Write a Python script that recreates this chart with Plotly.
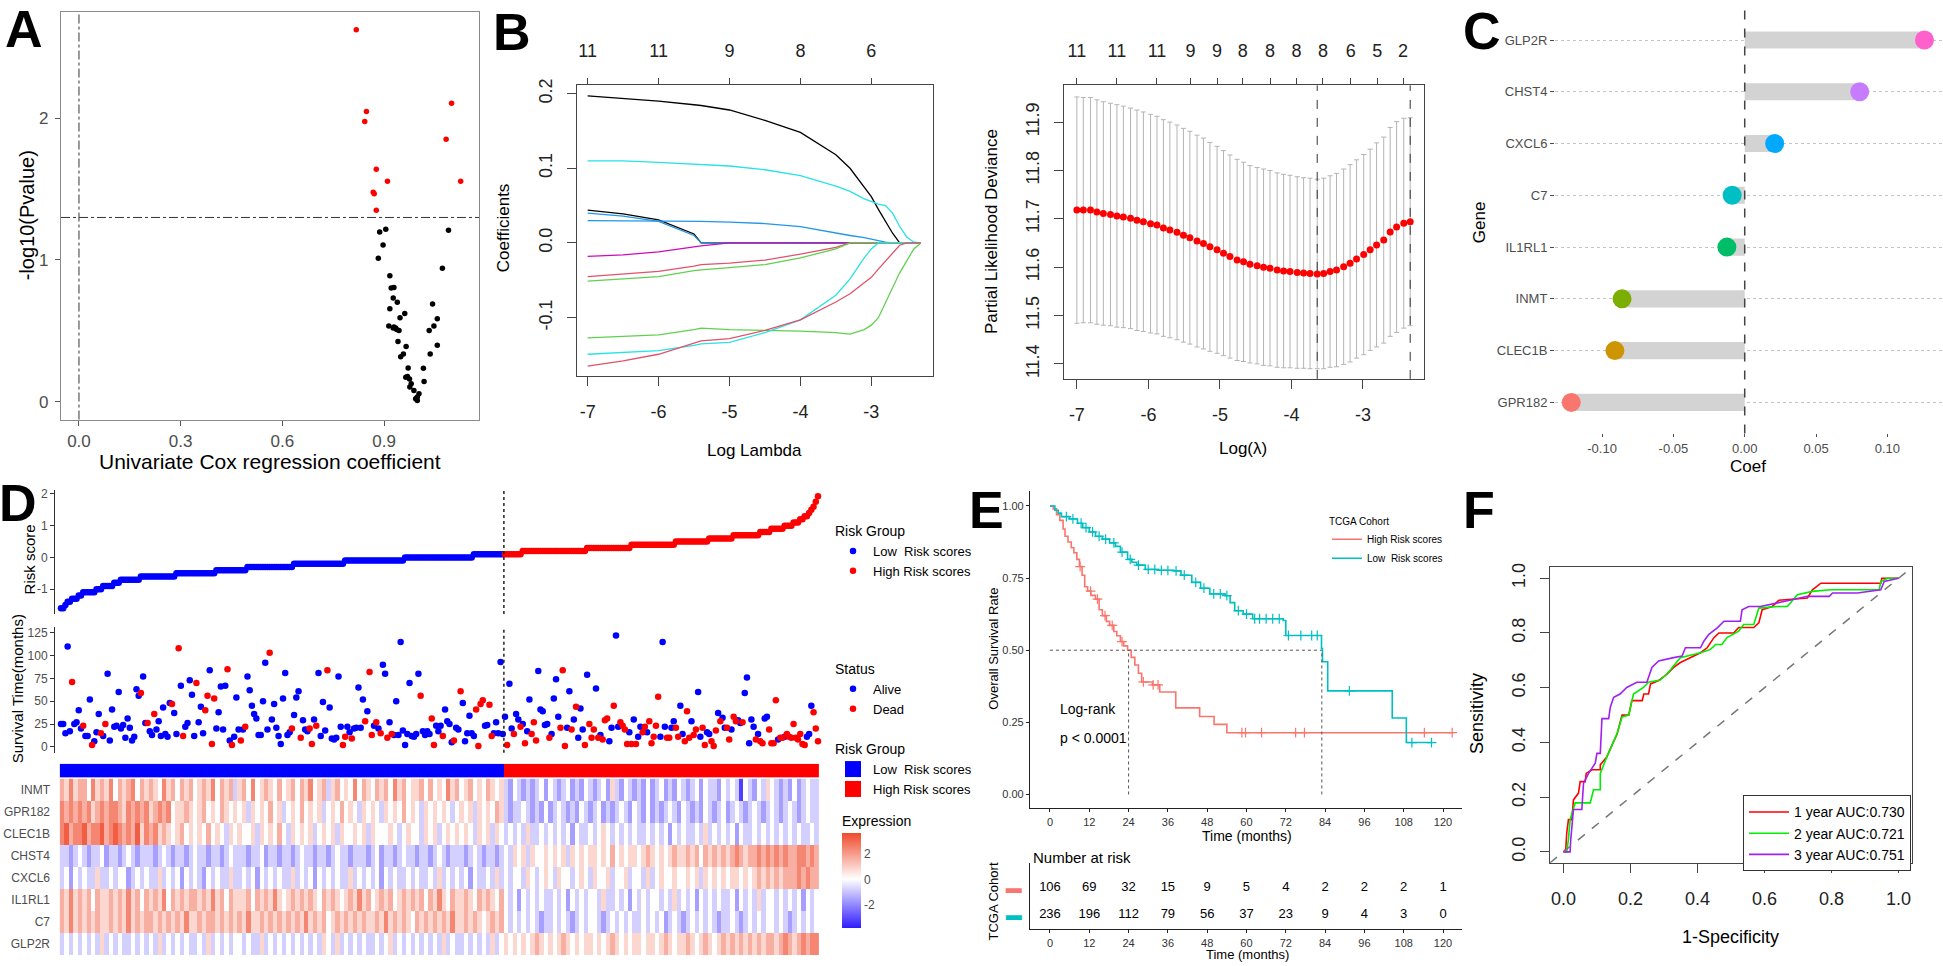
import plotly.graph_objects as go

W, H = 1943, 966

# ======================= DATA =======================
# ---- Panel A: univariate Cox ----
a_sig_x = [0.818, 0.848, 0.843, 0.877, 0.910, 0.868, 0.871, 0.877, 1.099, 1.083, 1.126]
a_sig_y = [2.625, 2.047, 1.977, 1.641, 1.555, 1.478, 1.468, 1.350, 2.105, 1.851, 1.555]
a_ns_x = [0.887, 0.905, 0.897, 0.883, 0.917, 0.921, 0.929, 0.927, 0.939, 0.917,
          0.947, 0.961, 0.914, 0.929, 0.937, 0.944, 0.941, 0.965, 0.957, 0.949,
          0.971, 0.969, 0.975, 0.980, 0.988, 0.993, 0.998, 1.003, 1.016, 1.018,
          1.033, 1.047, 1.057, 1.043, 1.036, 1.057, 1.072, 1.090, 0.964, 0.976,
          0.998, 0.927, 0.934]
a_ns_y = [1.198, 1.217, 1.105, 1.012, 0.888, 0.802, 0.806, 0.732, 0.702, 0.655,
          0.592, 0.622, 0.534, 0.527, 0.510, 0.503, 0.424, 0.389, 0.336, 0.317,
          0.238, 0.177, 0.161, 0.126, 0.079, 0.021, 0.033, 0.056, 0.236, 0.142,
          0.503, 0.534, 0.585, 0.690, 0.336, 0.399, 0.942, 1.210, 0.172, 0.103,
          0.009, 0.520, 0.520]
a_p_cut = 1.3

# ---- Panel B (left): LASSO coefficient paths ----
lasso_loglam = [-7.0, -6.5, -6.0, -5.5, -5.4, -5.0, -4.5, -4.0, -3.5, -3.3, -3.1, -3.0,
                -2.9, -2.8, -2.7, -2.6, -2.5, -2.4, -2.3]
lasso_coefs = [
    [0.197, 0.194, 0.190, 0.185, 0.184, 0.178, 0.164, 0.148, 0.118, 0.100, 0.075, 0.062, 0.045, 0.029, 0.013, 0, 0, 0, 0],
    [0.110, 0.110, 0.108, 0.106, 0.105, 0.103, 0.098, 0.090, 0.076, 0.069, 0.059, 0.055, 0.052, 0.050, 0.040, 0.022, 0.008, 0.001, 0],
    [0.044, 0.039, 0.031, 0.012, 0, 0, 0, 0, 0, 0, 0, 0, 0, 0, 0, 0, 0, 0, 0],
    [0.040, 0.036, 0.029, 0.010, 0, 0, 0, 0, 0, 0, 0, 0, 0, 0, 0, 0, 0, 0, 0],
    [0.030, 0.030, 0.030, 0.029, 0.029, 0.028, 0.026, 0.022, 0.013, 0.010, 0.007, 0.005, 0.003, 0.001, 0, 0, 0, 0, 0],
    [-0.018, -0.016, -0.012, -0.005, -0.004, 0, 0, 0, 0, 0, 0, 0, 0, 0, 0, 0, 0, 0, 0],
    [-0.045, -0.042, -0.038, -0.031, -0.029, -0.027, -0.023, -0.015, -0.006, 0, 0, 0, 0, 0, 0, 0, 0, 0, 0],
    [-0.051, -0.048, -0.045, -0.037, -0.036, -0.033, -0.029, -0.020, -0.008, 0, 0, 0, 0, 0, 0, 0, 0, 0, 0],
    [-0.127, -0.125, -0.123, -0.116, -0.114, -0.116, -0.117, -0.118, -0.120, -0.122, -0.116, -0.110, -0.100, -0.080, -0.058, -0.040, -0.024, -0.008, 0],
    [-0.149, -0.147, -0.144, -0.137, -0.135, -0.133, -0.120, -0.103, -0.070, -0.048, -0.020, -0.008, 0, 0, 0, 0, 0, 0, 0],
    [-0.165, -0.158, -0.149, -0.134, -0.131, -0.128, -0.117, -0.103, -0.079, -0.068, -0.054, -0.046, -0.035, -0.024, -0.013, -0.003, 0, 0, 0],
]
lasso_colors = ["#000000", "#28E2E5", "#000000", "#2297E6", "#2297E6", "#CD0BBC",
                "#DF536B", "#61D04F", "#61D04F", "#28E2E5", "#DF536B"]
lasso_df_at = [-7, -6, -5, -4, -3]
lasso_df = [11, 11, 9, 8, 6]

# ---- Panel B (right): cross-validation ----
cv_loglam = [-7.00, -6.91, -6.81, -6.72, -6.63, -6.53, -6.44, -6.35, -6.25, -6.16,
             -6.07, -5.97, -5.88, -5.79, -5.70, -5.60, -5.51, -5.42, -5.32, -5.23,
             -5.14, -5.04, -4.95, -4.86, -4.76, -4.67, -4.58, -4.48, -4.39, -4.30,
             -4.20, -4.11, -4.02, -3.92, -3.83, -3.74, -3.64, -3.55, -3.46, -3.37,
             -3.27, -3.18, -3.09, -2.99, -2.90, -2.81, -2.71, -2.62, -2.53, -2.43, -2.34]
cv_mean = [11.718, 11.718, 11.718, 11.714, 11.711, 11.709, 11.706, 11.704, 11.701, 11.697,
           11.694, 11.690, 11.687, 11.681, 11.677, 11.672, 11.666, 11.661, 11.654, 11.649,
           11.642, 11.636, 11.629, 11.622, 11.615, 11.611, 11.606, 11.603, 11.600, 11.598,
           11.594, 11.592, 11.591, 11.589, 11.588, 11.587, 11.586, 11.587, 11.591, 11.594,
           11.601, 11.608, 11.617, 11.626, 11.636, 11.646, 11.656, 11.673, 11.683, 11.691, 11.694]
cv_sd = [0.234, 0.233, 0.233, 0.232, 0.231, 0.230, 0.230, 0.229, 0.228, 0.228,
         0.227, 0.226, 0.225, 0.224, 0.223, 0.222, 0.221, 0.220, 0.219, 0.218,
         0.216, 0.214, 0.212, 0.210, 0.208, 0.206, 0.204, 0.203, 0.203, 0.202,
         0.201, 0.200, 0.199, 0.198, 0.197, 0.197, 0.196, 0.197, 0.198, 0.200,
         0.202, 0.204, 0.205, 0.207, 0.208, 0.211, 0.213, 0.216, 0.218, 0.217, 0.215]
cv_df_at = [-7.0, -6.44, -5.88, -5.41, -5.04, -4.68, -4.30, -3.93, -3.56, -3.17, -2.80, -2.44]
cv_df = [11, 11, 11, 9, 9, 8, 8, 8, 8, 6, 5, 2]
lam_min = -3.64
lam_1se = -2.34

# ---- Panel C: coefficients ----
c_genes = ["GPR182", "CLEC1B", "INMT", "IL1RL1", "C7", "CXCL6", "CHST4", "GLP2R"]
c_coef = [-0.1216, -0.091, -0.086, -0.0125, -0.0088, 0.021, 0.0806, 0.126]
c_colors = ["#F8766D", "#CD9600", "#7CAE00", "#00BE67", "#00BFC4", "#00A9FF", "#C77CFF", "#FF61CC"]

# ---- Panel D: risk score, survival status, heatmap ----
low_levels = [-1.6, -1.5, -1.4, -1.3, -1.2, -1.1, -1.0, -0.9, -0.8, -0.7, -0.6, -0.5, -0.4,
              -0.3, -0.2, -0.1, 0.0, 0.1]
low_counts = [2, 1, 2, 3, 2, 6, 3, 5, 3, 9, 16, 18, 14, 21, 23, 27, 31, 14]
high_levels = [0.1, 0.2, 0.3, 0.4, 0.5, 0.6, 0.7, 0.8, 0.9, 1.0, 1.1, 1.2, 1.3, 1.4, 1.5,
               1.6, 1.75, 1.93]
high_counts = [8, 29, 20, 20, 15, 11, 12, 5, 6, 4, 3, 2, 2, 1, 1, 1, 1, 1]

surv_time_low = [25, 25, 15, 110, 17, 71, 25, 27, 40, 20, 23, 12, 12, 52, 2, 6, 16, 36, 15, 12,
                 25, 80, 7, 41, 22, 23, 60, 20, 24, 10, 31, 21, 7, 11, 63, 56, 59, 77, 26, 26,
                 17, 13, 36, 19, 28, 12, 43, 14, 11, 48, 47, 37, 14, 108, 67, 12, 22, 26, 73, 57,
                 12, 70, 27, 44, 15, 40, 56, 84, 3, 53, 20, 38, 66, 19, 67, 85, 7, 2, 11, 54,
                 19, 7, 19, 22, 77, 62, 45, 36, 31, 13, 13, 50, 92, 19, 103, 30, 47, 21, 12, 3,
                 53, 81, 13, 16, 20, 35, 54, 61, 10, 29, 19, 17, 20, 3, 30, 23, 81, 12, 49, 18,
                 84, 43, 9, 8, 10, 77, 22, 2, 11, 22, 16, 9, 20, 21, 65, 21, 52, 28, 39, 82,
                 13, 23, 27, 20, 15, 90, 80, 10, 27, 14, 13, 50, 13, 115, 18, 2, 14, 70, 12, 11,
                 14, 80, 56, 17, 13, 17, 14, 31, 2, 23, 17, 23, 12, 41, 28, 25, 5, 7, 21, 19,
                 61, 48, 6, 15, 34, 15, 12, 41, 1, 47, 51, 23, 24, 46, 12, 15, 27, 15, 93, 14]
surv_time_high = [33, 2, 69, 20, 14, 36, 30, 22, 25, 4, 17, 52, 14, 27, 7, 83, 41, 39, 24, 25,
                  10, 14, 53, 74, 33, 21, 84, 1, 21, 61, 19, 30, 44, 10, 42, 19, 2, 79, 25, 10,
                  19, 64, 10, 13, 8, 29, 31, 6, 21, 45, 122, 22, 27, 23, 19, 3, 16, 3, 30, 3,
                  11, 22, 16, 22, 16, 28, 4, 11, 23, 55, 11, 115, 22, 10, 10, 21, 28, 21, 11, 45,
                  14, 6, 39, 10, 28, 13, 19, 60, 11, 21, 2, 16, 14, 6, 1, 18, 37, 28, 32, 21,
                  21, 8, 19, 33, 28, 29, 26, 27, 59, 76, 4, 30, 22, 8, 14, 6, 4, 31, 33, 19,
                  4, 4, 51, 8, 10, 10, 11, 14, 11, 10, 25, 10, 8, 14, 3, 2, 11, 14, 45, 38,
                  20, 6]
surv_status_low = ("0000010000 1000100010 1000000000 0000001001 0010000000 1001010000 "
                   "0100011011 0000010100 0101000000 0000100000 0000100010 0011010000 "
                   "1000000110 0100000101 1010100101 0000000000 0010000110 0010000100 "
                   "1000000111 1001100000")
surv_status_high = ("0100100101 0011100000 1000011100 1010001011 1010111001 0011110101 "
                    "0011011111 0001100110 0111011001 1001110100 1101100100 0001011001 "
                    "1110110111 1111110001 11")

heat_genes = ["INMT", "GPR182", "CLEC1B", "CHST4", "CXCL6", "IL1RL1", "C7", "GLP2R"]
# one character per pair of patients; '4' = 0, each step = 0.8 SD
heat_low = {
    "INMT":   "6575664756 5746567465 6547564656 4565746563 5647456546 4564657456 3564547465 4656475645 5646454756 4564546545",
    "GPR182": "7676767567 6776576767 5676745565 4564546545 4535454645 3454645453 4546454354 5435454645 4354545434 5453545465",
    "CLEC1B": "7867786778 6787676857 6756545645 4546454354 5445354546 4354545345 4535445453 5444543454 4354534545 4543545354",
    "CHST4":  "3323432334 2332343233 3234323323 4332332343 3323342332 3323433233 2343323332 3423323433 2332343233 3234323323",
    "CXCL6":  "3424343353 3434423434 3353434243 4324343353 3434243434 3353434243 4343353434 3424343343 4334353434 3424334353",
    "IL1RL1": "6575656465 5656575646 5657465656 6565756465 5564656575 4565656546 5654565756 4565645656 5646575465 5654656546",
    "C7":     "6575656565 5656575656 6565656575 5656656565 6575565656 5656575656 4565656565 5657565654 6565656575 5656545656",
    "GLP2R":  "3434343435 3434334343 4353434343 3435343434 4343353434 3434343435 4353434343 3434534343 4343435343 3434343534",
}
heat_high = {
    "INMT":   "3243232342 4323423243 2342532432 3242342324 3234243324 3430432435 4323242343 3",
    "GPR182": "3233432324 2343232432 3423234324 3242323432 4323243234 2343234323 4323432343 3",
    "CLEC1B": "3434353343 4343424334 3454343434 3343434243 4334353434 3424334343 4343434334 3",
    "CHST4":  "4354535445 4545354545 5454645455 4565454565 5656465656 5676566767 6767667767 6",
    "CXCL6":  "4344354345 4354434543 5445344534 4353454454 4545354545 4554545656 5656667676 6",
    "IL1RL1": "4342434343 3434243434 4353343424 3434434353 4342434343 3424343534 4343434243 4",
    "C7":     "4343434323 3434323434 4323434343 3434342343 2343434323 3432343434 4343234343 4",
    "GLP2R":  "5454545654 5456545455 4545654545 5455456545 5654565456 5656565656 6567656767 7",
}
heat_step = 0.8

# ---- Panel E: Kaplan-Meier ----
km_high_t = [0, 1, 2, 3, 4, 4.6, 5.5, 6.5, 7.3, 8.2, 9, 9.8, 10.6, 11.5, 12.5, 13.9, 15, 16,
             17.2, 18.2, 19.5, 20.4, 21.5, 22.5, 23.7, 24.8, 25.9, 27, 28, 31.3, 33.5, 38.4,
             45.7, 50.1, 54, 122.8]
km_high_s = [1, 0.99, 0.97, 0.95, 0.92, 0.895, 0.875, 0.855, 0.838, 0.815, 0.79, 0.76, 0.72,
             0.705, 0.69, 0.677, 0.64, 0.62, 0.60, 0.586, 0.565, 0.55, 0.53, 0.515, 0.50,
             0.475, 0.449, 0.42, 0.39, 0.38, 0.355, 0.30, 0.27, 0.243, 0.214, 0.214]
km_low_t = [0, 1.5, 2.5, 3.5, 6, 8.4, 10, 12, 13.9, 16, 18.2, 20, 21.5, 23.7, 25, 26.5, 29.1,
            33, 37.9, 40, 43.3, 46, 48.8, 53.5, 55, 56.4, 59, 61.9, 71.2, 72, 82.1, 82.9, 83.2,
            84.8, 104.3, 104.5, 108.6, 108.8, 116.5]
km_low_s = [1, 0.985, 0.975, 0.963, 0.955, 0.94, 0.925, 0.91, 0.895, 0.885, 0.872, 0.86, 0.84,
            0.815, 0.805, 0.795, 0.78, 0.777, 0.775, 0.76, 0.735, 0.715, 0.695, 0.689, 0.665,
            0.637, 0.625, 0.609, 0.603, 0.551, 0.551, 0.506, 0.46, 0.359, 0.359, 0.265, 0.265,
            0.18, 0.18]
cens_high = [9.2, 12.4, 14.5, 16.8, 19, 22, 28.5, 31.5, 33, 58.6, 59.7, 64.6, 75, 77.7, 114.3, 122.8]
cens_low = [5, 7, 9.5, 11, 13, 15, 17, 19.5, 22, 24.5, 27, 30, 32, 34, 36, 38.5, 41, 44.5, 47,
            50, 52, 54, 57.5, 60, 62.5, 64, 66, 68, 70, 72.8, 76.6, 79.9, 81.6, 91.4, 110.5, 116.5]
median_high = 24
median_low = 83
risk_times = [0, 12, 24, 36, 48, 60, 72, 84, 96, 108, 120]
n_risk_high = [106, 69, 32, 15, 9, 5, 4, 2, 2, 2, 1]
n_risk_low = [236, 196, 112, 79, 56, 37, 23, 9, 4, 3, 0]

# ---- Panel F: time-dependent ROC ----
roc1_fpr = [0.0, 0.007, 0.010, 0.015, 0.025, 0.030, 0.045, 0.050, 0.065, 0.068, 0.085, 0.110,
            0.110, 0.130, 0.145, 0.160, 0.175, 0.195, 0.204, 0.235, 0.240, 0.254, 0.260, 0.284,
            0.309, 0.329, 0.349, 0.379, 0.409, 0.429, 0.449, 0.464, 0.508, 0.523, 0.568, 0.583,
            0.593, 0.623, 0.643, 0.728, 0.743, 0.768, 0.947, 0.950, 1.0]
roc1_tpr = [0.0, 0.010, 0.070, 0.118, 0.118, 0.190, 0.215, 0.257, 0.257, 0.287, 0.300, 0.300,
            0.318, 0.348, 0.390, 0.430, 0.500, 0.500, 0.553, 0.553, 0.577, 0.577, 0.614, 0.626,
            0.650, 0.674, 0.692, 0.710, 0.728, 0.746, 0.783, 0.800, 0.800, 0.820, 0.820, 0.837,
            0.885, 0.897, 0.920, 0.928, 0.958, 0.982, 0.982, 1.0, 1.0]
roc2_fpr = [0.0, 0.010, 0.015, 0.020, 0.035, 0.080, 0.090, 0.110, 0.110, 0.130, 0.160, 0.175,
            0.195, 0.209, 0.239, 0.254, 0.289, 0.309, 0.329, 0.349, 0.409, 0.439, 0.454, 0.473,
            0.488, 0.523, 0.538, 0.568, 0.583, 0.638, 0.668, 0.698, 0.743, 0.798, 0.942, 0.947,
            0.967, 1.0]
roc2_tpr = [0.0, 0.0, 0.046, 0.118, 0.179, 0.179, 0.227, 0.227, 0.287, 0.348, 0.432, 0.493,
            0.500, 0.577, 0.601, 0.620, 0.628, 0.650, 0.680, 0.710, 0.728, 0.740, 0.758, 0.758,
            0.783, 0.807, 0.831, 0.831, 0.891, 0.897, 0.897, 0.940, 0.952, 0.958, 0.958, 0.988,
            1.0, 1.0]
roc3_fpr = [0.0, 0.020, 0.022, 0.030, 0.055, 0.060, 0.075, 0.095, 0.100, 0.110, 0.115, 0.135,
            0.140, 0.150, 0.169, 0.189, 0.219, 0.249, 0.264, 0.284, 0.329, 0.354, 0.364, 0.409,
            0.419, 0.434, 0.459, 0.479, 0.528, 0.533, 0.553, 0.588, 0.658, 0.728, 0.793, 0.803,
            0.877, 0.947, 0.957, 1.0]
roc3_tpr = [0.0, 0.0, 0.046, 0.155, 0.155, 0.251, 0.287, 0.324, 0.360, 0.360, 0.487, 0.487,
            0.529, 0.565, 0.577, 0.601, 0.620, 0.620, 0.674, 0.698, 0.710, 0.716, 0.746, 0.746,
            0.770, 0.795, 0.819, 0.843, 0.843, 0.885, 0.897, 0.897, 0.915, 0.934, 0.934, 0.946,
            0.946, 0.958, 0.988, 1.0]
roc_names = ["1 year AUC:0.730", "2 year AUC:0.721", "3 year AUC:0.751"]
roc_colors = ["#FF0000", "#00EE00", "#A020F0"]

# ======================= HELPERS =======================
FONT = "Liberation Sans, Arial, Helvetica, sans-serif"
GTXT = "#4d4d4d"


def fx(p):
    return p / W


def fy(p):
    return 1 - p / H


def dx(a, b):
    return [fx(a), fx(b)]


def dy(top, bottom):
    return [fy(bottom), fy(top)]


def ann(text, x, y, size, rot=0, color="black", bold=False, xanchor="center"):
    t = "<b>%s</b>" % text if bold else text
    return dict(text=t, x=fx(x), y=fy(y), xref="paper", yref="paper", showarrow=False,
                font=dict(size=size, color=color, family=FONT), textangle=rot,
                xanchor=xanchor, yanchor="middle")


def surv_at(ts, ss, t):
    val = ss[0]
    for ti, si in zip(ts, ss):
        if ti <= t:
            val = si
    return val


fig = go.Figure()
NOHOV = dict(hoverinfo="skip")

# ======================= PANEL A =======================
fig.add_trace(go.Scatter(x=a_ns_x, y=a_ns_y, mode="markers", marker=dict(color="black", size=5.5),
                         xaxis="x", yaxis="y", showlegend=False, **NOHOV))
fig.add_trace(go.Scatter(x=a_sig_x, y=a_sig_y, mode="markers", marker=dict(color="#FF0000", size=5.5),
                         xaxis="x", yaxis="y", showlegend=False, **NOHOV))

# ======================= PANEL B left =======================
for coefs, col in zip(lasso_coefs, lasso_colors):
    fig.add_trace(go.Scatter(x=lasso_loglam, y=coefs, mode="lines", line=dict(color=col, width=1.3),
                             xaxis="x2", yaxis="y2", showlegend=False, **NOHOV))
fig.add_trace(go.Scatter(x=lasso_df_at, y=[None] * len(lasso_df_at), mode="markers",
                         xaxis="x3", yaxis="y2", showlegend=False, **NOHOV))

# ======================= PANEL B right =======================
fig.add_trace(go.Scatter(x=cv_loglam, y=cv_mean, mode="markers",
                         marker=dict(color="#FF0000", size=7),
                         error_y=dict(type="data", array=cv_sd, color="#b4b4b4", thickness=1, width=2.5),
                         xaxis="x4", yaxis="y4", showlegend=False, **NOHOV))
fig.add_trace(go.Scatter(x=cv_df_at, y=[None] * len(cv_df_at), mode="markers",
                         xaxis="x5", yaxis="y4", showlegend=False, **NOHOV))

# ======================= PANEL C =======================
fig.add_trace(go.Bar(y=c_genes, x=c_coef, orientation="h", width=0.33,
                     marker=dict(color="#D3D3D3", line=dict(width=0)),
                     xaxis="x6", yaxis="y6", showlegend=False, **NOHOV))
fig.add_trace(go.Scatter(y=c_genes, x=c_coef, mode="markers",
                         marker=dict(color=c_colors, size=19, line=dict(width=0)),
                         xaxis="x6", yaxis="y6", showlegend=False, cliponaxis=False, **NOHOV))

# ======================= PANEL D =======================
low_scores = [lv for lv, c in zip(low_levels, low_counts) for _ in range(c)]
high_scores = [lv for lv, c in zip(high_levels, high_counts) for _ in range(c)]
n_low = len(low_scores)
n_all = n_low + len(high_scores)
fig.add_trace(go.Scatter(x=list(range(1, n_low + 1)), y=low_scores, mode="markers",
                         marker=dict(color="#0000FF", size=6.5), name="Low\u00a0 Risk scores",
                         legend="legend", xaxis="x7", yaxis="y7", **NOHOV))
fig.add_trace(go.Scatter(x=list(range(n_low + 1, n_all + 1)), y=high_scores, mode="markers",
                         marker=dict(color="#FF0000", size=6.5), name="High Risk scores",
                         legend="legend", xaxis="x7", yaxis="y7", **NOHOV))

surv_time = surv_time_low + surv_time_high
surv_status = "".join((surv_status_low + surv_status_high).split())
alive_x = [i + 1 for i, s in enumerate(surv_status) if s == "0"]
alive_y = [surv_time[i] for i, s in enumerate(surv_status) if s == "0"]
dead_x = [i + 1 for i, s in enumerate(surv_status) if s == "1"]
dead_y = [surv_time[i] for i, s in enumerate(surv_status) if s == "1"]
fig.add_trace(go.Scatter(x=alive_x, y=alive_y, mode="markers", marker=dict(color="#0000FF", size=6.5),
                         name="Alive", legend="legend2", xaxis="x8", yaxis="y8", **NOHOV))
fig.add_trace(go.Scatter(x=dead_x, y=dead_y, mode="markers", marker=dict(color="#FF0000", size=6.5),
                         name="Dead", legend="legend2", xaxis="x8", yaxis="y8", **NOHOV))

# risk group annotation bar
fig.add_trace(go.Heatmap(z=[[0] * n_low + [1] * (n_all - n_low)], x=list(range(1, n_all + 1)), y=[0],
                         colorscale=[[0, "#0000FF"], [0.5, "#0000FF"], [0.5, "#FF0000"], [1, "#FF0000"]],
                         zmin=0, zmax=1, showscale=False, xaxis="x9", yaxis="y9", **NOHOV))
fig.add_trace(go.Scatter(x=[None], y=[None], mode="markers",
                         marker=dict(symbol="square", size=18, color="#0000FF"),
                         name="Low\u00a0 Risk scores", legend="legend3", xaxis="x9", yaxis="y9", **NOHOV))
fig.add_trace(go.Scatter(x=[None], y=[None], mode="markers",
                         marker=dict(symbol="square", size=18, color="#FF0000"),
                         name="High Risk scores", legend="legend3", xaxis="x9", yaxis="y9", **NOHOV))

# expression heatmap
heat_z = []
for g in heat_genes:
    row = "".join((heat_low[g] + heat_high[g]).split())
    heat_z.append([(int(ch) - 4) * heat_step for ch in row])
ncol = len(heat_z[0])
pat_per_col = n_all / ncol
heat_x = [0.5 + pat_per_col * (j + 0.5) for j in range(ncol)]
fig.add_trace(go.Heatmap(
    z=heat_z, x=heat_x, y=heat_genes, zmin=-3.8, zmax=3.6,
    colorscale=[[0, "#2F1CFF"], [0.514, "#FFFFFF"], [1, "#EF4A2C"]],
    colorbar=dict(x=fx(842), xanchor="left", y=fy(812), yanchor="top",
                  len=116, lenmode="pixels", thickness=19, thicknessmode="pixels",
                  title=dict(text="Expression", side="top", font=dict(size=14, color="black")),
                  tickvals=[-2, 0, 2], ticktext=["-2", "0", "2"],
                  tickfont=dict(size=12, color=GTXT), outlinewidth=0, ticks="", xpad=0, ypad=0),
    xaxis="x10", yaxis="y10", **NOHOV))

# ======================= PANEL E =======================
fig.add_trace(go.Scatter(x=km_high_t, y=km_high_s, mode="lines",
                         line=dict(shape="hv", color="#F8766D", width=1.6),
                         name="High Risk scores", legend="legend4", xaxis="x11", yaxis="y11", **NOHOV))
fig.add_trace(go.Scatter(x=km_low_t, y=km_low_s, mode="lines",
                         line=dict(shape="hv", color="#00BFC4", width=1.6),
                         name="Low\u00a0 Risk scores", legend="legend4", xaxis="x11", yaxis="y11", **NOHOV))
fig.add_trace(go.Scatter(x=cens_high, y=[surv_at(km_high_t, km_high_s, t) for t in cens_high],
                         mode="markers", marker=dict(symbol="cross-thin", size=7,
                                                     line=dict(color="#F8766D", width=1.2)),
                         showlegend=False, xaxis="x11", yaxis="y11", **NOHOV))
fig.add_trace(go.Scatter(x=cens_low, y=[surv_at(km_low_t, km_low_s, t) for t in cens_low],
                         mode="markers", marker=dict(symbol="cross-thin", size=7,
                                                     line=dict(color="#00BFC4", width=1.2)),
                         showlegend=False, xaxis="x11", yaxis="y11", **NOHOV))
fig.add_trace(go.Scatter(x=risk_times + risk_times, y=[1] * len(risk_times) + [0] * len(risk_times),
                         mode="text", text=[str(v) for v in n_risk_high + n_risk_low],
                         textfont=dict(size=13, color="black"), showlegend=False,
                         xaxis="x12", yaxis="y12", **NOHOV))

# ======================= PANEL F =======================
for fpr, tpr, nm, col in zip([roc1_fpr, roc2_fpr, roc3_fpr], [roc1_tpr, roc2_tpr, roc3_tpr],
                             roc_names, roc_colors):
    fig.add_trace(go.Scatter(x=fpr, y=tpr, mode="lines", line=dict(color=col, width=1.6),
                             name=nm, legend="legend5", xaxis="x13", yaxis="y13", **NOHOV))

# ======================= AXES =======================
gg = dict(showline=True, mirror=True, linecolor="#8a8a8a", linewidth=1.3, ticks="outside",
          ticklen=5, tickcolor="#555", tickfont=dict(size=17, color=GTXT), showgrid=False,
          zeroline=False)
rb = dict(showline=True, mirror=True, linecolor="#444", linewidth=1.2, ticks="outside", ticklen=9,
          tickcolor="#444", tickfont=dict(size=18, color="#222"), showgrid=False, zeroline=False)
classic = dict(showline=True, linecolor="#222", linewidth=1.2, ticks="outside", ticklen=3,
               tickcolor="#222", tickfont=dict(size=11, color="#333"), showgrid=False, zeroline=False)
d_x = dict(domain=dx(55, 822), range=[-1.7, 343.8], visible=False)
d_y = dict(showline=True, linecolor="#333", linewidth=1, ticks="outside", ticklen=4, tickcolor="#333",
           tickfont=dict(size=12, color=GTXT), showgrid=False, zeroline=False)
E_DOM = dx(1030, 1462)
E_RNG = [-6.1, 125.8]

layout = dict(
    width=W, height=H, margin=dict(l=0, r=0, t=0, b=0),
    paper_bgcolor="white", plot_bgcolor="white",
    font=dict(family=FONT, color="black"), hovermode=False, showlegend=True,
    # A
    xaxis=dict(domain=dx(61, 479), range=[-0.053, 1.18], anchor="y", tickvals=[0, 0.3, 0.6, 0.9],
               ticktext=["0.0", "0.3", "0.6", "0.9"], ticklabelstandoff=1, **gg),
    yaxis=dict(domain=dy(5, 416), range=[-0.126, 2.75], anchor="x", tickvals=[0, 1, 2],
               ticklabelstandoff=3, **gg),
    # B left
    xaxis2=dict(domain=dx(577, 933), range=[-7.15, -2.13], anchor="y2", tickvals=[-7, -6, -5, -4, -3],
                ticktext=["-7", "-6", "-5", "-4", "-3"], ticklabelstandoff=10, **rb),
    yaxis2=dict(domain=dy(79, 372), range=[-0.178, 0.211], anchor="x2", tickvals=[-0.1, 0, 0.1, 0.2],
                ticktext=["-0.1", "0.0", "0.1", "0.2"], tickangle=-90, ticklabelstandoff=8, **rb),
    xaxis3=dict(overlaying="x2", anchor="y2", side="top", range=[-7.15, -2.13],
                tickvals=lasso_df_at, ticktext=[str(v) for v in lasso_df], ticks="outside", ticklen=6,
                tickcolor="#444", tickfont=dict(size=18, color="#222"), showline=False, showgrid=False,
                zeroline=False, ticklabelstandoff=14),
    # B right
    xaxis4=dict(domain=dx(1064, 1424), range=[-7.18, -2.147], anchor="y4", tickvals=[-7, -6, -5, -4, -3],
                ticktext=["-7", "-6", "-5", "-4", "-3"], ticklabelstandoff=10, **rb),
    yaxis4=dict(domain=dy(79, 375), range=[11.369, 11.976], anchor="x4",
                tickvals=[11.4, 11.5, 11.6, 11.7, 11.8, 11.9], tickangle=-90, ticklabelstandoff=8, **rb),
    xaxis5=dict(overlaying="x4", anchor="y4", side="top", range=[-7.18, -2.147],
                tickvals=cv_df_at, ticktext=[str(v) for v in cv_df], ticks="outside", ticklen=6,
                tickcolor="#444", tickfont=dict(size=18, color="#222"), showline=False, showgrid=False,
                zeroline=False, ticklabelstandoff=14),
    # C
    xaxis6=dict(domain=dx(1555, 1943), range=[-0.133, 0.139], anchor="y6",
                tickvals=[-0.1, -0.05, 0, 0.05, 0.1], ticktext=["-0.10", "-0.05", "0.00", "0.05", "0.10"],
                ticks="outside", ticklen=3, tickcolor=GTXT, tickfont=dict(size=13, color=GTXT),
                showline=False, showgrid=False, zeroline=False),
    yaxis6=dict(domain=dy(2, 430), range=[-0.6, 7.6], anchor="x6", type="category",
                categoryorder="array", categoryarray=c_genes, ticks="outside", ticklen=4, tickcolor=GTXT,
                tickfont=dict(size=13, color=GTXT), showgrid=True, gridcolor="#c4c4c4",
                griddash="dot", gridwidth=1, showline=False, zeroline=False),
    # D
    xaxis7=dict(anchor="y7", **d_x),
    yaxis7=dict(domain=dy(487, 612), range=[-1.78, 2.125], anchor="x7", tickvals=[-1, 0, 1, 2],
                ticktext=["-1", "0", "1", "2"], **d_y),
    xaxis8=dict(anchor="y8", **d_x),
    yaxis8=dict(domain=dy(625, 752), range=[-6.5, 131.5], anchor="x8",
                tickvals=[0, 25, 50, 75, 100, 125], **d_y),
    xaxis9=dict(anchor="y9", **d_x),
    yaxis9=dict(domain=dy(763, 777), anchor="x9", visible=False),
    xaxis10=dict(anchor="y10", **d_x),
    yaxis10=dict(domain=dy(778, 956), anchor="x10", autorange="reversed", type="category",
                 ticks="", showline=False, showgrid=False, zeroline=False,
                 tickfont=dict(size=12, color=GTXT), ticklabelstandoff=4),
    # E
    xaxis11=dict(domain=E_DOM, range=E_RNG, anchor="y11", tickvals=risk_times, **classic),
    yaxis11=dict(domain=dy(488, 808), range=[-0.048, 1.052], anchor="x11",
                 tickvals=[0, 0.25, 0.5, 0.75, 1.0], ticktext=["0.00", "0.25", "0.50", "0.75", "1.00"],
                 **classic),
    xaxis12=dict(domain=E_DOM, range=E_RNG, anchor="y12", tickvals=risk_times, **classic),
    yaxis12=dict(domain=dy(863, 930), range=[-0.56, 1.93], anchor="x12", tickvals=[1, 0],
                 ticktext=["<span style='color:#F8766D'>\u25ac</span>",
                           "<span style='color:#00BFC4'>\u25ac</span>"],
                 showline=True, linecolor="#222", linewidth=1.2, ticks="", showgrid=False,
                 zeroline=False, tickfont=dict(size=16), ticklabelstandoff=4),
    # F
    xaxis13=dict(domain=dx(1550, 1912), range=[-0.04, 1.04], anchor="y13",
                 tickvals=[0, 0.2, 0.4, 0.6, 0.8, 1.0], ticktext=["0.0", "0.2", "0.4", "0.6", "0.8", "1.0"],
                 ticklabelstandoff=10, **rb),
    yaxis13=dict(domain=dy(565, 863), range=[-0.04, 1.04], anchor="x13",
                 tickvals=[0, 0.2, 0.4, 0.6, 0.8, 1.0], ticktext=["0.0", "0.2", "0.4", "0.6", "0.8", "1.0"],
                 tickangle=-90, ticklabelstandoff=8, **rb),
    # legends
    legend=dict(x=fx(833), y=fy(515), xanchor="left", yanchor="top", bgcolor="rgba(0,0,0,0)",
                title=dict(text="Risk Group", font=dict(size=14)), font=dict(size=13),
                itemwidth=30, tracegroupgap=0),
    legend2=dict(x=fx(833), y=fy(654), xanchor="left", yanchor="top", bgcolor="rgba(0,0,0,0)",
                 title=dict(text="Status", font=dict(size=14)), font=dict(size=13),
                 itemwidth=30, tracegroupgap=0),
    legend3=dict(x=fx(833), y=fy(735), xanchor="left", yanchor="top", bgcolor="rgba(0,0,0,0)",
                 title=dict(text="Risk Group", font=dict(size=14)), font=dict(size=13),
                 itemwidth=30, tracegroupgap=0),
    legend4=dict(x=fx(1327), y=fy(509), xanchor="left", yanchor="top", bgcolor="rgba(0,0,0,0)",
                 title=dict(text="TCGA Cohort", font=dict(size=10)), font=dict(size=10),
                 itemwidth=30, tracegroupgap=0),
    legend5=dict(x=fx(1743), y=fy(795), xanchor="left", yanchor="top", bgcolor="white",
                 bordercolor="#333", borderwidth=1, font=dict(size=14), itemwidth=40, tracegroupgap=0),
)
fig.update_layout(**layout)

# ======================= SHAPES =======================
shapes = [
    dict(type="line", xref="x", yref="y", x0=-0.053, x1=1.18, y0=a_p_cut, y1=a_p_cut,
         line=dict(color="#333", width=1, dash="dashdot")),
    dict(type="line", xref="x", yref="y domain", x0=0, x1=0, y0=0, y1=1,
         line=dict(color="#333", width=1, dash="dashdot")),
    dict(type="line", xref="x4", yref="y4 domain", x0=lam_min, x1=lam_min, y0=0, y1=1,
         line=dict(color="#333", width=1, dash="dash")),
    dict(type="line", xref="x4", yref="y4 domain", x0=lam_1se, x1=lam_1se, y0=0, y1=1,
         line=dict(color="#333", width=1, dash="dash")),
    dict(type="line", xref="x6", yref="paper", x0=0, x1=0, y0=fy(430), y1=fy(0),
         line=dict(color="#444", width=1.5, dash="dash"), layer="above"),
    dict(type="line", xref="x7", yref="y7 domain", x0=n_low + 0.5, x1=n_low + 0.5, y0=0, y1=1,
         line=dict(color="#222", width=1.5, dash="dot")),
    dict(type="line", xref="x8", yref="y8 domain", x0=n_low + 0.5, x1=n_low + 0.5, y0=0, y1=1,
         line=dict(color="#222", width=1.5, dash="dot")),
    dict(type="line", xref="x11", yref="y11", x0=0, x1=median_low, y0=0.5, y1=0.5,
         line=dict(color="#555", width=1, dash="dot")),
    dict(type="line", xref="x11", yref="y11", x0=median_high, x1=median_high, y0=0, y1=0.5,
         line=dict(color="#555", width=1, dash="dot")),
    dict(type="line", xref="x11", yref="y11", x0=median_low, x1=median_low, y0=0, y1=0.5,
         line=dict(color="#555", width=1, dash="dot")),
    dict(type="line", xref="x13", yref="y13", x0=-0.04, x1=1.04, y0=-0.04, y1=1.04,
         line=dict(color="#777", width=1.5, dash="dash")),
]
fig.update_layout(shapes=shapes)

# ======================= ANNOTATIONS =======================
anns = [
    ann("A", 24, 22, 52, bold=True), ann("B", 512, 25, 52, bold=True),
    ann("C", 1482, 24, 52, bold=True), ann("D", 18, 500, 52, bold=True),
    ann("E", 987, 507, 52, bold=True), ann("F", 1479, 507, 52, bold=True),
    ann("-log10(Pvalue)", 27, 210, 20, rot=-90),
    ann("Univariate Cox regression coefficient", 270, 458, 21),
    ann("Coefficients", 503, 223, 17, rot=-90),
    ann("Log Lambda", 754, 447, 17),
    ann("Partial Likelihood Deviance", 991, 227, 17, rot=-90),
    ann("Log(\u03bb)", 1243, 445, 17),
    ann("Gene", 1479, 217, 17, rot=-90),
    ann("Coef", 1748, 463, 17),
    ann("Risk score", 29, 557, 15, rot=-90),
    ann("Survival Time(months)", 17, 688, 15, rot=-90),
    ann("Overall Survival Rate", 994, 647, 13, rot=-90),
    ann("Time (months)", 1247, 836, 14),
    ann("Log-rank", 1058, 708, 14, xanchor="left"),
    ann("p &lt; 0.0001", 1058, 737, 14, xanchor="left"),
    ann("Number at risk", 1031, 858, 15, xanchor="left"),
    ann("Time (months)", 1247, 955, 13),
    ann("TCGA Cohort", 994, 902, 13, rot=-90),
    ann("Sensitivity", 1477, 713, 18, rot=-90),
    ann("1-Specificity", 1730, 938, 18),
]
fig.update_layout(annotations=anns)

fig.write_html("out.html", config={"displayModeBar": False},
               post_script="document.body.style.margin='0px';document.body.style.overflow='hidden';")
